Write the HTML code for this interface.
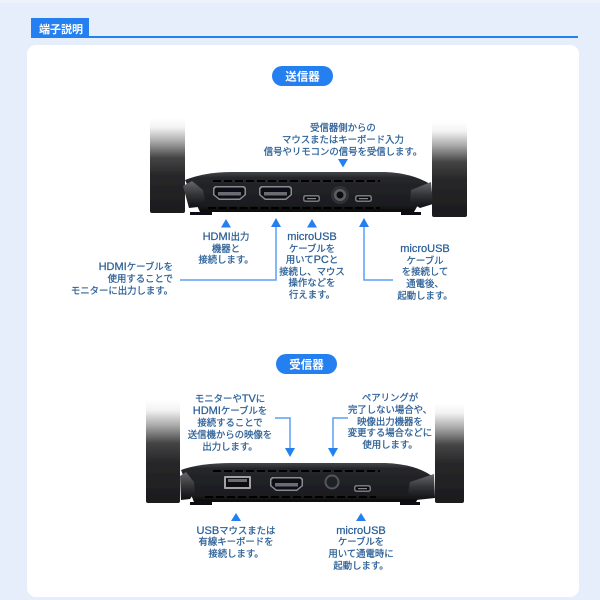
<!DOCTYPE html>
<html lang="ja"><head><meta charset="utf-8"><title>端子説明</title>
<style>
html,body{margin:0;padding:0;background:#e5eefa}
svg{display:block}
text{font-family:"Liberation Sans","Noto Sans CJK JP",sans-serif;font-size:9.4px;fill:#2b5f96;text-anchor:middle;stroke:#2b5f96;stroke-width:.25px}
tspan.l{font-size:11px}
.w{fill:#fff;stroke:none;font-weight:700;font-size:11.5px}
.r{text-anchor:end}
</style></head><body>
<svg width="600" height="600" viewBox="0 0 600 600" xmlns="http://www.w3.org/2000/svg">
<defs>
<filter id="s" x="-5%" y="-5%" width="110%" height="110%"><feGaussianBlur stdDeviation=".3"/></filter>
<linearGradient id="a1" x1="0" y1="0" x2="0" y2="1"><stop offset="0" stop-color="#fff"/><stop offset=".1" stop-color="#f2f2f2"/><stop offset=".25" stop-color="#a8a8a8"/><stop offset=".42" stop-color="#444"/><stop offset=".6" stop-color="#28282a"/><stop offset="1" stop-color="#1b1b1d"/></linearGradient>
<linearGradient id="b" x1="0" y1="0" x2="0" y2="1"><stop offset="0" stop-color="#44464b"/><stop offset=".14" stop-color="#26272b"/><stop offset=".85" stop-color="#1a1b1e"/><stop offset="1" stop-color="#08080a"/></linearGradient>
<linearGradient id="j" x1="0" y1="0" x2="0" y2="1"><stop offset="0" stop-color="#66676b"/><stop offset=".5" stop-color="#333437"/><stop offset="1" stop-color="#101012"/></linearGradient>
<g id="hdmi"><path d="M0 2 2 0H31L33 2V9L27 14H6L0 9Z" fill="#8a8c92"/><path d="M1.500 3 3 1.500H30L31.500 3V8.500L26.500 12.500H6.500L1.500 8.500Z" fill="#111114"/><rect x="5" y="6" width="23" height="3.500" fill="#6a6c72"/></g>
<g id="mu"><rect x="0" y="0" width="17" height="7" rx="2.500" fill="#77797f"/><rect x="1.500" y="1.500" width="14" height="4" rx="1.500" fill="#0b0b0d"/><rect x="4" y="3" width="9" height="1.200" fill="#888"/></g>
</defs>
<rect width="600" height="600" fill="#e5eefa"/>
<rect width="600" height="3" fill="#edf2fb"/>
<rect x="27" y="45" width="552" height="552" rx="9" fill="#fff"/>
<rect x="31" y="18" width="58" height="20" fill="#2480f0"/>
<rect x="31" y="36" width="547" height="2" fill="#2480f0"/>
<text class="w" x="61" y="33" style="font-size:11px">端子説明</text>
<rect x="272" y="66" width="61" height="20" rx="10" fill="#2480f0"/>
<text class="w" x="302.500" y="80.500">送信器</text>
<rect x="276" y="354" width="61" height="20" rx="10" fill="#2480f0"/>
<text class="w" x="306.500" y="368.500">受信器</text>

<g filter="url(#s)">
<!-- transmitter -->
<rect x="150" y="118" width="35" height="95" rx="2" fill="url(#a1)"/>
<rect x="432" y="122" width="35" height="95" rx="2" fill="url(#a1)"/>
<path d="M190 212H212V215H190Z" fill="#101012"/>
<path d="M401 212H421V215H401Z" fill="#101012"/>
<path d="M185 180Q205 172 232 172H385Q412 173 430 184L414 212H200Z" fill="url(#b)"/>
<path d="M183 186 192 181 203 190 205 200 198 207 189 208Z" fill="url(#j)"/>
<path d="M411 190 431 182 433 204 420 208 410 202Z" fill="url(#j)"/>
<path d="M213 181H380" stroke="#050506" stroke-width="2" stroke-dasharray="8 3"/>
<path d="M208 208H380" stroke="#050506" stroke-width="2" stroke-dasharray="8 2.500"/>
<use href="#hdmi" x="213" y="186"/>
<use href="#hdmi" x="259" y="186"/>
<use href="#mu" x="303" y="195"/>
<use href="#mu" x="355" y="195"/>
<circle cx="340" cy="195" r="9" fill="#2e3035"/><circle cx="340" cy="195" r="6" fill="#5d5f64"/><circle cx="340" cy="195" r="3.500" fill="#0a0a0c"/>

<!-- receiver -->
<rect x="146" y="400" width="34" height="103" rx="2" fill="url(#a1)"/>
<rect x="435" y="403" width="29" height="100" rx="2" fill="url(#a1)"/>
<path d="M190 502H212V505H190Z" fill="#101012"/>
<path d="M400 502H420V505H400Z" fill="#101012"/>
<path d="M181 470Q200 463 232 463H385Q415 464 432 476L416 502H194Z" fill="url(#b)"/>
<path d="M180 476 186 472 194 482 195 492 190 499 181 500Z" fill="url(#j)"/>
<path d="M410 482 434 474 435 498 416 500 408 492Z" fill="url(#j)"/>
<path d="M213 471H380" stroke="#050506" stroke-width="2" stroke-dasharray="8 3"/>
<path d="M205 497H376" stroke="#050506" stroke-width="2" stroke-dasharray="8 3"/>
<rect x="224" y="476" width="27" height="13" rx="1" fill="#a0a2a6"/><rect x="226" y="478" width="23" height="9" fill="#0c0c0f"/><rect x="228" y="479" width="19" height="3" fill="#6a6c70"/>
<use href="#hdmi" x="270" y="477"/>
<circle cx="332" cy="482" r="7.500" fill="#54565c"/><circle cx="332" cy="482" r="5.500" fill="#1f2126"/>
<use href="#mu" x="354" y="485"/>
</g>

<!-- connectors -->
<g fill="none" stroke="#5aa0f5" stroke-width="1.500">
<path d="M180 280H276V226"/>
<path d="M393 280H364V226"/>
<path d="M275 418H290V449"/>
<path d="M348 418H333V449"/>
</g>
<g fill="#2480f0">
<path d="M338 159H348L343 167.500Z"/>
<path d="M226 219 231 227.500H221Z"/>
<path d="M276 218 281 227H271Z"/>
<path d="M312 219 317 227.500H307Z"/>
<path d="M364 218 369 227H359Z"/>
<path d="M285 448H295L290 457Z"/>
<path d="M328 448H338L333 457Z"/>
<path d="M236 513 241 521H231Z"/>
<path d="M361 513 366 521H356Z"/>
</g>

<!-- labels -->
<g filter="url(#s)">
<text x="343" y="131">受信器側からの</text>
<text x="343" y="143">マウスまたはキーボード入力</text>
<text x="343" y="155">信号やリモコンの信号を受信します。</text>

<text x="226" y="240"><tspan class="l">HDMI</tspan>出力</text>
<text x="226" y="252">機器と</text>
<text x="226" y="263">接続します。</text>

<text class="r" x="173" y="270"><tspan class="l">HDMI</tspan>ケーブルを</text>
<text class="r" x="173" y="282">使用することで</text>
<text class="r" x="173" y="294">モニターに出力します。</text>

<text x="312" y="240"><tspan class="l">microUSB</tspan></text>
<text x="312" y="252">ケーブルを</text>
<text x="312" y="263">用いて<tspan class="l">PC</tspan>と</text>
<text x="312" y="275">接続し、マウス</text>
<text x="312" y="286">操作などを</text>
<text x="312" y="298">行えます。</text>

<text x="425" y="252"><tspan class="l">microUSB</tspan></text>
<text x="425" y="264">ケーブル</text>
<text x="425" y="275">を接続して</text>
<text x="425" y="287">通電後、</text>
<text x="425" y="299">起動します。</text>

<text x="230" y="402">モニターや<tspan class="l">TV</tspan>に</text>
<text x="230" y="414"><tspan class="l">HDMI</tspan>ケーブルを</text>
<text x="230" y="426">接続することで</text>
<text x="230" y="438">送信機からの映像を</text>
<text x="230" y="450">出力します。</text>

<text x="390" y="401">ペアリングが</text>
<text x="390" y="413">完了しない場合や、</text>
<text x="390" y="425">映像出力機器を</text>
<text x="390" y="436">変更する場合などに</text>
<text x="390" y="448">使用します。</text>

<text x="236" y="534"><tspan class="l">USB</tspan>マウスまたは</text>
<text x="236" y="545">有線キーボードを</text>
<text x="236" y="557">接続します。</text>

<text x="361" y="534"><tspan class="l">microUSB</tspan></text>
<text x="361" y="545">ケーブルを</text>
<text x="361" y="557">用いて通電時に</text>
<text x="361" y="569">起動します。</text>
</g>
</svg>
</body></html>
